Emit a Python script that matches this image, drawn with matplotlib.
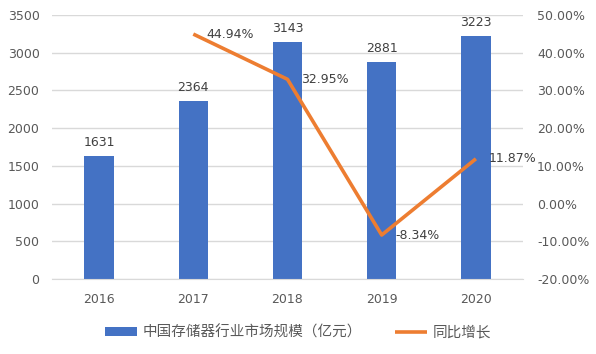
import matplotlib.pyplot as plt
import numpy as np

plt.rcParams['font.family'] = ['DejaVu Sans', 'Noto Sans CJK SC']

# 数据
years = ['2016', '2017', '2018', '2019', '2020']
market_size = [1631, 2364, 3143, 2881, 3223]
growth = [None, 44.94, 32.95, -8.34, 11.87]

BAR_C = '#4472C4'
LINE_C = '#ED7D31'
TXT_C = '#595959'
GRID_C = '#D9D9D9'

fig = plt.figure(figsize=(5.96, 3.54), dpi=100)
ax = fig.add_axes([52 / 596, 1 - 279 / 354, 471 / 596, 264 / 354])
ax2 = ax.twinx()

x = np.arange(len(years))
ax.bar(x, market_size, width=0.31, color=BAR_C, zorder=2,
       label='中国存储器行业市场规模（亿元）')
for xi, v in zip(x, market_size):
    ax.text(xi, v + 90, str(v), ha='center', va='bottom', fontsize=9, color='#404040')

ax.set_ylim(0, 3500)
ax.set_yticks(range(0, 3501, 500))
ax.set_xlim(-0.5, len(years) - 0.5)
ax.set_xticks(x)
ax.set_xticklabels(years)
ax.grid(axis='y', color=GRID_C, linewidth=1, zorder=0)
ax.set_axisbelow(True)

gx = [xi for xi, g in zip(x, growth) if g is not None]
gy = [g for g in growth if g is not None]
ax2.plot(gx, gy, color=LINE_C, linewidth=2.6, zorder=3, label='同比增长',
         solid_capstyle='butt')
for xi, g in zip(gx, gy):
    ax2.text(xi + 0.14, g, f'{g:.2f}%', ha='left', va='center', fontsize=9,
             color='#404040', zorder=4)
ax2.set_ylim(-20, 50)
ax2.set_yticks(range(-20, 51, 10))
ax2.set_yticklabels([f'{t:.2f}%' for t in range(-20, 51, 10)])

for a in (ax, ax2):
    for s in a.spines.values():
        s.set_visible(False)
    a.tick_params(length=0, labelsize=9, labelcolor=TXT_C)
ax.spines['bottom'].set_visible(True)
ax.spines['bottom'].set_color(GRID_C)
ax.tick_params(axis='x', pad=10)
ax.tick_params(axis='y', pad=9)
ax2.tick_params(axis='y', pad=10)

h1, l1 = ax.get_legend_handles_labels()
h2, l2 = ax2.get_legend_handles_labels()
fig.legend(h1 + h2, l1 + l2, loc='center', bbox_to_anchor=(0.5, 1 - 332 / 354),
           ncol=2, frameon=False, fontsize=10.5, labelcolor=TXT_C,
           handlelength=2.2, handleheight=0.55, columnspacing=2.3,
           handletextpad=0.35)

fig.savefig('out.png', dpi=100)
